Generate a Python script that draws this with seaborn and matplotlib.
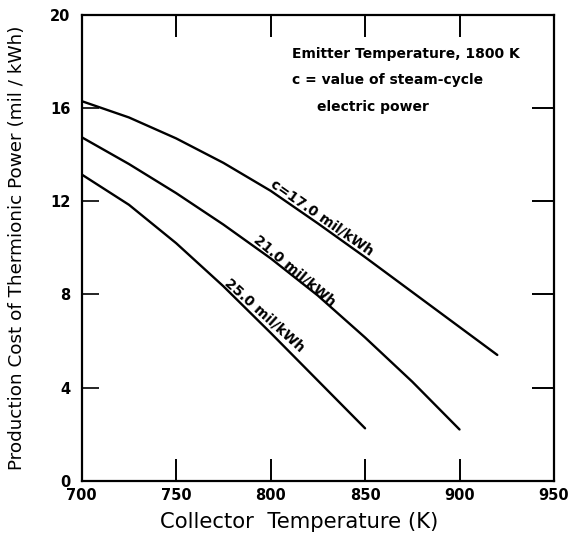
import matplotlib
matplotlib.use("Agg")
import matplotlib.pyplot as plt
import seaborn as sns
import pandas as pd

# ---- data ----
temp_17 = [700, 725, 750, 775, 800, 825, 850, 875, 900, 920]
cost_17 = [16.3, 15.6, 14.7, 13.65, 12.45, 11.05, 9.6, 8.1, 6.6, 5.4]
temp_21 = [700, 725, 750, 775, 800, 825, 850, 875, 900]
cost_21 = [14.75, 13.6, 12.35, 11.0, 9.55, 7.95, 6.15, 4.25, 2.2]
temp_25 = [700, 725, 750, 775, 800, 825, 850]
cost_25 = [13.15, 11.85, 10.2, 8.35, 6.35, 4.3, 2.25]
series_names = ["c=17.0 mil/kWh", "21.0 mil/kWh", "25.0 mil/kWh"]
x_ticks = [700, 750, 800, 850, 900, 950]
y_ticks = [0, 4, 8, 12, 16, 20]
inner_x = [750, 800, 850, 900]
inner_y = [4, 8, 12, 16]

df = pd.concat([
    pd.DataFrame({"T": temp_17, "cost": cost_17, "c": series_names[0]}),
    pd.DataFrame({"T": temp_21, "cost": cost_21, "c": series_names[1]}),
    pd.DataFrame({"T": temp_25, "cost": cost_25, "c": series_names[2]}),
])

sns.set_theme(style="white")
plt.rcParams["font.family"] = ["DejaVu Sans"]

fig = plt.figure(figsize=(5.73, 5.49), dpi=100)
ax = fig.add_axes([0.1426, 0.1244, 0.9668 - 0.1426, 0.9727 - 0.1244])

sns.lineplot(data=df, x="T", y="cost", hue="c", palette=["black"] * 3,
             linewidth=1.7, legend=False, ax=ax, sort=False)

ax.set_xlim(700, 950)
ax.set_ylim(0, 20)
for s in ax.spines.values():
    s.set_color("black")
    s.set_linewidth(1.6)

ax.xaxis.remove_overlapping_locs = False
ax.yaxis.remove_overlapping_locs = False

# major ticks: labels only
ax.set_xticks(x_ticks)
ax.set_yticks(y_ticks)
ax.tick_params(which="major", length=0, labelsize=10.5, colors="black")
ax.tick_params(axis="x", which="major", pad=5)
ax.tick_params(axis="y", which="major", pad=8)
for lab in ax.get_xticklabels() + ax.get_yticklabels():
    lab.set_fontweight("bold")

# inner tick marks
ax.set_xticks(inner_x, minor=True)
ax.set_yticks(inner_y, minor=True)
ax.tick_params(axis="x", which="minor", direction="in", length=16, width=1.4,
               bottom=True, top=True, color="black")
ax.tick_params(axis="y", which="minor", direction="in", length=12, width=1.2,
               left=True, right=False, color="black")
sec = ax.secondary_yaxis("right")
sec.set_yticks(inner_y)
sec.tick_params(direction="in", length=16, width=1.4, labelright=False, color="black")
sec.spines["right"].set_visible(False)

ax.set_xlabel("Collector  Temperature (K)", fontsize=15.2, color="black")
ax.set_ylabel("Production Cost of Thermionic Power (mil / kWh)", fontsize=13.2,
              color="black")
ax.xaxis.set_label_coords(0.46, -0.068)
ax.yaxis.set_label_coords(-0.118, 0.5)

note_kw = dict(transform=ax.transAxes, fontsize=10, fontweight="bold",
               color="black", ha="left", va="center")
ax.text(0.445, 0.916, "Emitter Temperature, 1800 K", **note_kw)
ax.text(0.445, 0.861, "c = value of steam-cycle", **note_kw)
ax.text(0.498, 0.803, "electric power", **note_kw)

# curve labels (rotated along the curves)
lab_kw = dict(fontsize=10, fontweight="bold", ha="center", va="center",
              rotation_mode="anchor", color="black")
ax.text(827.5, 11.3, series_names[0], rotation=-35, **lab_kw)
ax.text(813, 9.0, series_names[1], rotation=-40, **lab_kw)
ax.text(797, 7.1, series_names[2], rotation=-42, **lab_kw)

fig.savefig("out.png", dpi=100)
